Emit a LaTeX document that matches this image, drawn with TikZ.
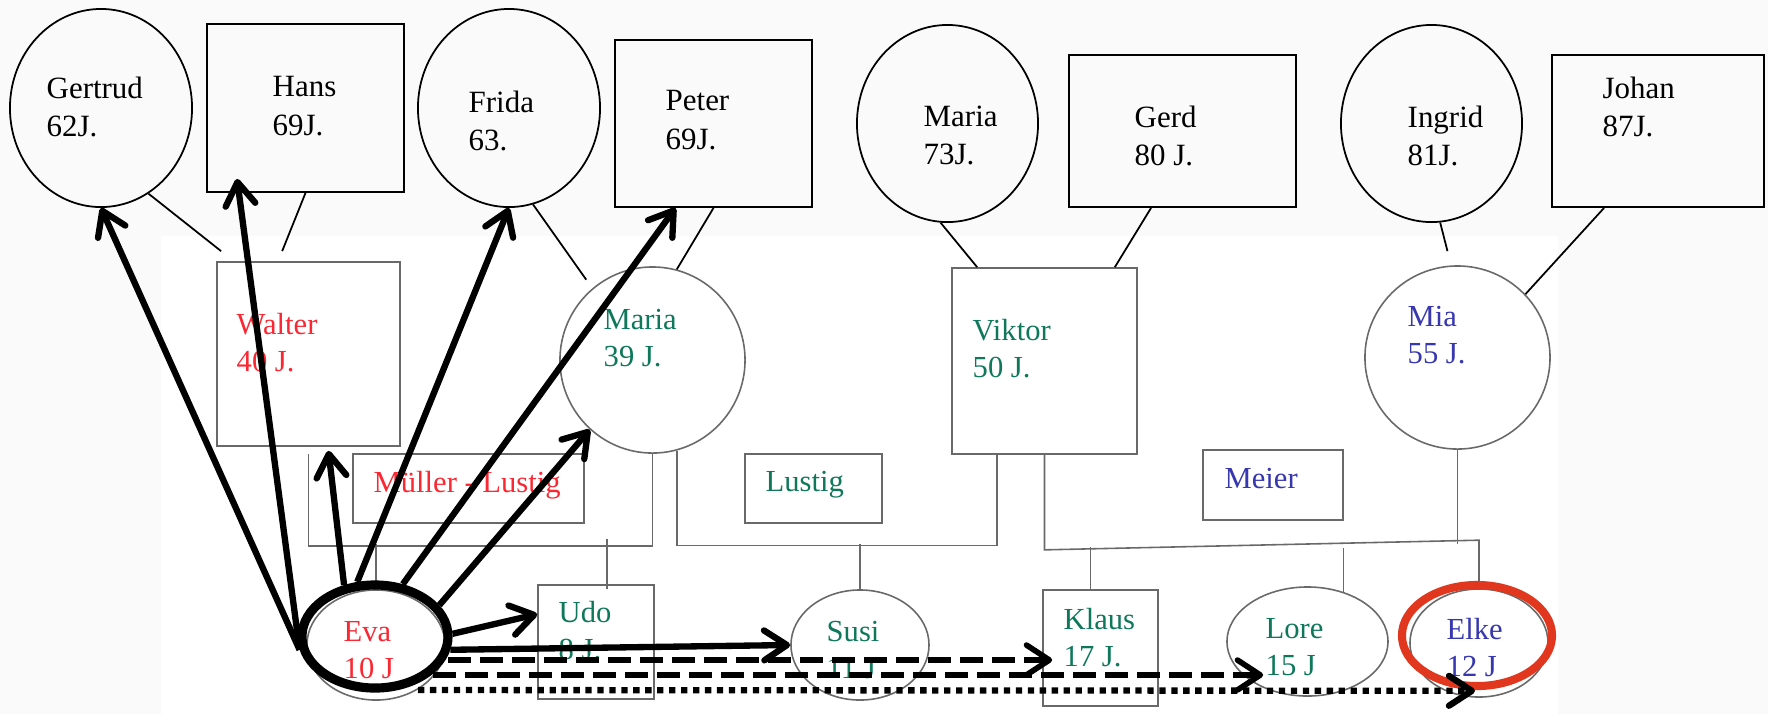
\documentclass[tikz,border=0pt]{standalone}
\usepackage{fontspec}
\setmainfont{Liberation Serif}
\usetikzlibrary{calc,shapes.geometric,arrows.meta}
\definecolor{famred}{RGB}{250,40,50}
\definecolor{famgreen}{RGB}{15,120,90}
\definecolor{famblue}{RGB}{55,55,175}
\definecolor{famgray}{RGB}{105,105,105}
\definecolor{markred}{RGB}{225,55,30}
\definecolor{paper}{RGB}{250,250,250}

\begin{document}
\begin{tikzpicture}[x=0.01cm, y=-0.01cm,
  old/.style={draw=black, line width=0.5pt, inner sep=0pt},
  young/.style={draw=famgray, line width=0.45pt, inner sep=0pt},
  txt/.style={anchor=north west, inner sep=0pt, align=left, font=\fontsize{8.8}{10.9}\selectfont},
  txtlow/.style={txt, font=\fontsize{8.7}{10.5}\selectfont},
  kin/.style={black, line width=0.5pt},
  fam/.style={famgray, line width=0.45pt},
  rel/.style={line width=1.8pt, -{Straight Barb[round, length=6.5pt,width=8.5pt]}},
  reldash/.style={rel, line width=1.6pt, dash pattern=on 6.5pt off 2.6pt},
  reldot/.style={rel, line width=1.8pt, dash pattern=on 1.8pt off 1.6pt}]
  \useasboundingbox (0,0) rectangle (1768,714);
  \fill[paper] (0,0) rectangle (1768,714);
  \fill[white] (161,236) rectangle (1558,714);

  % grandparents
  \node[old, ellipse, minimum width=1.82cm, minimum height=1.98cm] (gertrud) at (101,108) {};
  \node[old, minimum width=1.97cm, minimum height=1.68cm] (hans) at (305.5,108) {};
  \node[old, ellipse, minimum width=1.82cm, minimum height=1.98cm] (frida) at (509,108) {};
  \node[old, minimum width=1.97cm, minimum height=1.67cm] (peter) at (713.5,123.5) {};
  \node[old, ellipse, minimum width=1.81cm, minimum height=1.97cm] (gmaria) at (947.5,123.5) {};
  \node[old, minimum width=2.27cm, minimum height=1.52cm] (gerd) at (1182.5,131) {};
  \node[old, ellipse, minimum width=1.81cm, minimum height=1.97cm] (ingrid) at (1431.5,123.5) {};
  \node[old, minimum width=2.12cm, minimum height=1.52cm] (johan) at (1658,131) {};

  % parents and family names
  \node[young, minimum width=1.83cm, minimum height=1.84cm] (walter) at (308.5,354) {};
  \node[young, ellipse, minimum width=1.85cm, minimum height=1.86cm] (maria) at (652.5,360) {};
  \node[young, minimum width=1.85cm, minimum height=1.86cm] (viktor) at (1044.5,361) {};
  \node[young, ellipse, minimum width=1.85cm, minimum height=1.83cm] (mia) at (1457.5,357.5) {};
  \node[young, minimum width=2.31cm, minimum height=0.69cm] (muellerlustig) at (468.5,488.5) {};
  \node[young, minimum width=1.37cm, minimum height=0.69cm] (lustig) at (813.5,488.5) {};
  \node[young, minimum width=1.40cm, minimum height=0.70cm] (meier) at (1273,485) {};

  % children
  \node[young, ellipse, minimum width=1.38cm, minimum height=1.10cm] (eva) at (376,645) {};
  \node[young, minimum width=1.16cm, minimum height=1.14cm] (udo) at (596,642) {};
  \node[young, ellipse, minimum width=1.38cm, minimum height=1.10cm] (susi) at (860,645) {};
  \node[young, minimum width=1.15cm, minimum height=1.16cm] (klaus) at (1100.5,648) {};
  \node[young, ellipse, minimum width=1.61cm, minimum height=1.09cm] (lore) at (1307.5,641.5) {};
  \node[young, ellipse, minimum width=1.38cm, minimum height=1.08cm] (elke) at (1479,643) {};

  % texts
  \node[txt] (gertrudt) at (46,76) {Gertrud\\62J.};
  \node[txt] (hanst) at (272,76) {Hans\\69J.};
  \node[txt] (fridat) at (468,90) {Frida\\63.};
  \node[txt] (petert) at (665,90) {Peter\\69J.};
  \node[txt] (gmariat) at (923,105) {Maria\\73J.};
  \node[txt] (gerdt) at (1134,105) {Gerd\\80 J.};
  \node[txt] (ingridt) at (1407,105) {Ingrid\\81J.};
  \node[txt] (johant) at (1602,76) {Johan\\87J.};
  \node[txtlow, text=famred] (waltert) at (236,313) {Walter\\40 J.};
  \node[txtlow, text=famgreen] (mariat) at (603,309) {Maria\\39 J.};
  \node[txtlow, text=famgreen] (viktort) at (972,319) {Viktor\\50 J.};
  \node[txtlow, text=famblue] (miat) at (1407,306) {Mia\\55 J.};
  \node[txtlow, text=famred] (muellerlustigt) at (373,471) {Müller - Lustig};
  \node[txtlow, text=famgreen] (lustigt) at (765,471) {Lustig};
  \node[txtlow, text=famblue] (meiert) at (1224,468) {Meier};
  \node[txtlow, text=famred] (evat) at (343,621) {Eva\\10 J};
  \node[txtlow, text=famgreen] (udot) at (558,601) {Udo\\8 J.};
  \node[txtlow, text=famgreen] (susit) at (826,621) {Susi\\11 J};
  \node[txtlow, text=famgreen] (klaust) at (1063,608) {Klaus\\17 J.};
  \node[txtlow, text=famgreen] (loret) at (1265,618) {Lore\\15 J};
  \node[txtlow, text=famblue] (elket) at (1446,618) {Elke\\12 J};

  % descent from the grandparents
  \draw[kin] (gertrud.-61) -- ($(walter.north west)+(5,-10)$);
  \draw[kin] (hans.south) -- ($(walter.north west)+(66,-10)$);
  \draw[kin, shorten >=3pt] (frida.-76) -- (maria.130);
  \draw[kin] (peter.south) -- (maria.75);
  \draw[kin] (gmaria.-94) -- ($(viktor.north west)+(26,0)$);
  \draw[kin] ($(gerd.south west)+(83,0)$) -- ($(viktor.north east)+(-23,0)$);
  \draw[kin] (ingrid.-85) -- ($(mia.north)+(-10,-14)$);
  \draw[kin] ($(johan.south west)+(53,0)$) -- (mia.43);

  % couples and their children
  \draw[fam, shorten <=2pt] (walter.south) -- ++(0,99) -| (maria.south);
  \draw[fam] (eva.north) -- ++(0,-45);
  \draw[fam] ($(udo.north)+(11,5)$) -- ++(0,-50);
  \draw[fam] (maria.-75) -- ++(0,95) -| ($(viktor.south)+(-47.5,0)$);
  \draw[fam] (susi.north) -- ++(0,-45);
  \draw[fam] (viktor.south) -- ++(0,95) -- ($(elke.north)+(0,-48)$) -- (elke.north);
  \draw[fam] (mia.south) -- ++(0,94);
  \draw[fam] ($(klaus.north)+(-10,0)$) -- ++(0,-42);
  \draw[fam] (lore.54) -- ++(0,-44);

  % marks
  \node[draw=black, line width=2.6pt, ellipse, inner sep=0pt, minimum width=1.46cm, minimum height=1.03cm] (evaring) at (375,636.5) {};
  \node[draw=markred, line width=2.3pt, ellipse, inner sep=0pt, minimum width=1.50cm, minimum height=1.01cm] (elkering) at (1477,635.5) {};

  % Eva's relations
  \draw[rel] (evaring.190) -- (gertrud.south);
  \draw[rel] (evaring.190) -- ($(hans.south west)+(31,-14)$);
  \draw[rel] (evaring.121) -- ($(walter.south)+(20,4)$);
  \draw[rel] (evaring.108) -- (frida.south);
  \draw[rel] (evaring.62) -- ($(peter.south)+(-38,0)$);
  \draw[rel] (evaring.26) -- (maria.228);
  \draw[rel] (evaring.2) -- ($(udo.north west)+(0,30)$);
  \draw[rel] (evaring.-10) -- (susi.west);
  \draw[reldash] ($(evaring.center)+(73,23.5)$) -- ($(klaus.west)+(10,12)$);
  \draw[reldash] ($(evaring.center)+(58,38.5)$) -- ($(lore.west)+(37,33.5)$);
  \draw[reldot] ($(evaring.center)+(43,53.5)$) -- ($(elke.south)+(-4,-7)$);
\end{tikzpicture}
\end{document}
